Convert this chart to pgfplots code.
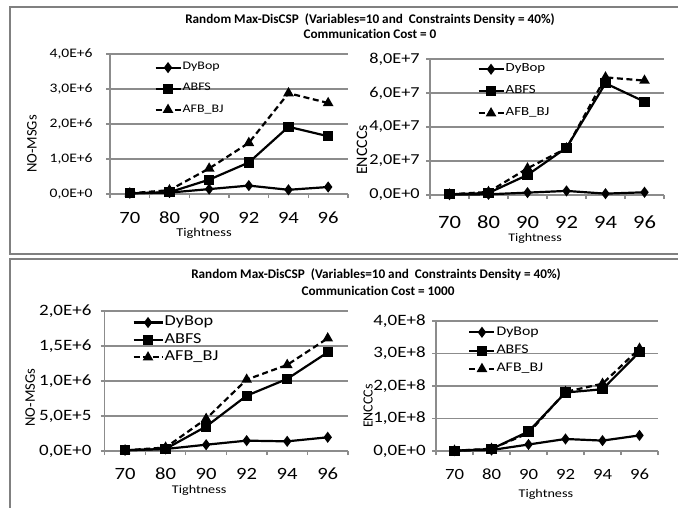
\documentclass[border=0pt]{standalone}
\usepackage{fontspec}
\setmainfont{Carlito}[Ligatures=NoCommon]
\newfontfamily\cw{Carlito}[FakeStretch=1.2,Ligatures=NoCommon]
\usepackage{pgfplots}
\pgfplotsset{compat=1.18}
\newcommand\fs[1]{\cw\fontsize{#1pt}{#1pt}\selectfont}
\newcommand\fn[1]{\rmfamily\fontsize{#1pt}{#1pt}\selectfont}
\definecolor{gridgray}{gray}{0.55}
\definecolor{boxgray}{gray}{0.5}

\pgfplotsset{
  excel/.style={
    scale only axis, clip=false,
    axis x line*=bottom, axis y line*=left,
    xmin=0.5, xmax=6.5, ymin=0,
    xtick={0.5,1.5,2.5,3.5,4.5,5.5,6.5}, xticklabels={},
    extra x ticks={1,2,3,4,5,6},
    extra x tick labels={70,80,90,92,94,96},
    extra x tick style={major tick length=0pt},
    tick align=outside, major tick length=2pt,
    axis line style={gridgray,line width=0.6pt},
    tick style={gridgray,line width=0.6pt},
    ymajorgrids, grid style={gridgray,line width=0.6pt},
    scaled y ticks=false,
    yticklabel style={anchor=east,inner sep=0pt},
    xticklabel style={anchor=center,inner sep=0pt},
    xlabel={Tightness},
    xlabel style={anchor=center},
    ylabel style={anchor=center},
    legend cell align=left,
    legend style={draw=none,fill=none,anchor=north west,inner sep=0pt,nodes={inner sep=0.5pt}},
  },
  leglen/.style={legend image code/.code={\draw[mark repeat=2,mark phase=2,##1] plot coordinates {(0pt,0pt) (#1/2,0pt) (#1,0pt)};}},
  dy/.style={black,line width=1.1pt,mark=diamond*,mark size=1.9pt},
  ab/.style={black,line width=1.1pt,mark=square*,mark size=2pt},
  af/.style={black,line width=1.1pt,dash pattern=on 3pt off 1.8pt,mark=triangle*,mark size=2pt,mark options={solid}},
}

\begin{document}
\begin{tikzpicture}
\path[use as bounding box] (0,0) rectangle (339pt,-254pt);
% panel frames
\draw[boxgray,line width=1pt] (339pt,-3.6pt) -- (5pt,-3.6pt) -- (5pt,-127pt) -- (339pt,-127pt);
\draw[boxgray,line width=1pt] (339pt,-129.5pt) -- (5pt,-129.5pt) -- (5pt,-254pt);
% titles
\node[font=\bfseries\fontsize{6.6pt}{8pt}\selectfont] at (185pt,-10pt) {Random Max-DisCSP\ \ (Variables=10 and\ \ Constraints Density = 40\%)};
\node[font=\bfseries\fontsize{6.6pt}{8pt}\selectfont] at (185pt,-17pt) {Communication Cost = 0};
\node[font=\bfseries\fontsize{6.6pt}{8pt}\selectfont] at (188pt,-137.5pt) {Random Max-DisCSP\ \ (Variables=10 and\ \ Constraints Density = 40\%)};
\node[font=\bfseries\fontsize{6.6pt}{8pt}\selectfont] at (189pt,-145.5pt) {Communication Cost = 1000};

% top left
\begin{axis}[excel,at={(55pt,-97pt)},anchor=south west,width=119pt,height=70pt,
  ymax=4e6,ytick={0,1e6,2e6,3e6,4e6},
  yticklabels={{0,0E+0},{1,0E+6},{2,0E+6},{3,0E+6},{4,0E+6}},
  yticklabel style={font=\fs{6.5},xshift=-6.5pt},
  xticklabel style={font=\fs{8.6},yshift=-12pt},
  xlabel style={font=\fs{6.0},at={(axis description cs:0.395,-0.279)}},
  ylabel={NO-MSGs},ylabel style={font=\fn{7.3},at={(axis description cs:-0.328,0.357)}},
  leglen=12.5pt,
  legend style={font=\fs{5.8},at={(axis description cs:0.185,0.950)},row sep=4.3pt}]
\addplot[dy] coordinates {(1,0.02e6) (2,0.04e6) (3,0.14e6) (4,0.24e6) (5,0.12e6) (6,0.2e6)};
\addlegendentry{DyBop}
\addplot[ab] coordinates {(1,0.02e6) (2,0.05e6) (3,0.41e6) (4,0.9e6) (5,1.92e6) (6,1.65e6)};
\addlegendentry{ABFS}
\addplot[af] coordinates {(1,0.02e6) (2,0.11e6) (3,0.73e6) (4,1.46e6) (5,2.88e6) (6,2.6e6)};
\addlegendentry{AFB\_BJ}
\end{axis}

% top right
\begin{axis}[excel,at={(215pt,-97.5pt)},anchor=south west,width=117pt,height=68pt,
  ymax=8e7,ytick={0,2e7,4e7,6e7,8e7},
  yticklabels={{0,0E+0},{2,0E+7},{4,0E+7},{6,0E+7},{8,0E+7}},
  yticklabel style={font=\fs{7.6},xshift=-3pt},
  xticklabel style={font=\fs{9.4},yshift=-13.5pt},
  xlabel style={font=\fs{5.8},at={(axis description cs:0.449,-0.316)}},
  ylabel={ENCCCs},ylabel style={font=\fn{8.0},at={(axis description cs:-0.291,0.331)}},
  leglen=12.5pt,
  legend style={font=\fs{6.2},at={(axis description cs:0.201,0.975)},row sep=4.5pt}]
\addplot[dy] coordinates {(1,0.2e6) (2,0.4e6) (3,1.4e6) (4,2.4e6) (5,0.8e6) (6,1.6e6)};
\addlegendentry{DyBop}
\addplot[ab] coordinates {(1,0.4e6) (2,1.2e6) (3,11.8e6) (4,27.8e6) (5,65.7e6) (6,54.9e6)};
\addlegendentry{ABFS}
\addplot[af] coordinates {(1,0.4e6) (2,1.8e6) (3,15.7e6) (4,27.5e6) (5,69.2e6) (6,67.3e6)};
\addlegendentry{AFB\_BJ}
\end{axis}

% bottom left
\begin{axis}[excel,at={(52.4pt,-225.5pt)},anchor=south west,width=121.6pt,height=70pt,
  ymax=2e6,ytick={0,5e5,1e6,1.5e6,2e6},
  yticklabels={{0,0E+0},{5,0E+5},{1,0E+6},{1,5E+6},{2,0E+6}},
  yticklabel style={font=\fs{7.9},xshift=-4.5pt},
  xticklabel style={font=\fs{8.6},yshift=-11.5pt},
  xlabel style={font=\fs{5.9},at={(axis description cs:0.388,-0.278)}},
  ylabel={NO-MSGs},ylabel style={font=\fn{7.3},at={(axis description cs:-0.307,0.381)}},
  leglen=14.5pt,
  legend style={font=\fs{7.6},at={(axis description cs:0.112,0.973)},row sep=1.3pt}]
\addplot[dy] coordinates {(1,0.01e6) (2,0.029e6) (3,0.09e6) (4,0.148e6) (5,0.138e6) (6,0.196e6)};
\addlegendentry{DyBop}
\addplot[ab] coordinates {(1,0.01e6) (2,0.03e6) (3,0.35e6) (4,0.79e6) (5,1.03e6) (6,1.41e6)};
\addlegendentry{ABFS}
\addplot[af] coordinates {(1,0.01e6) (2,0.05e6) (3,0.46e6) (4,1.02e6) (5,1.23e6) (6,1.61e6)};
\addlegendentry{AFB\_BJ}
\end{axis}

% bottom right
\begin{axis}[excel,at={(218pt,-225.5pt)},anchor=south west,width=111pt,height=65pt,
  ymax=4e8,ytick={0,1e8,2e8,3e8,4e8},
  yticklabels={{0,0E+0},{1,0E+8},{2,0E+8},{3,0E+8},{4,0E+8}},
  yticklabel style={font=\fs{7.9},xshift=-3pt},
  xticklabel style={font=\fs{7.8},yshift=-11.5pt},
  xlabel style={font=\fs{5.9},at={(axis description cs:0.495,-0.331)}},
  ylabel={ENCCCs},ylabel style={font=\fn{7.0},at={(axis description cs:-0.306,0.346)}},
  leglen=12.5pt,
  legend style={font=\fs{6.6},at={(axis description cs:0.144,0.968)},row sep=2.4pt}]
\addplot[dy] coordinates {(1,0.01e8) (2,0.03e8) (3,0.2e8) (4,0.37e8) (5,0.32e8) (6,0.48e8)};
\addlegendentry{DyBop}
\addplot[ab] coordinates {(1,0.01e8) (2,0.06e8) (3,0.6e8) (4,1.8e8) (5,1.9e8) (6,3.05e8)};
\addlegendentry{ABFS}
\addplot[af] coordinates {(1,0.01e8) (2,0.07e8) (3,0.55e8) (4,1.82e8) (5,2.07e8) (6,3.15e8)};
\addlegendentry{AFB\_BJ}
\end{axis}
\end{tikzpicture}
\end{document}
